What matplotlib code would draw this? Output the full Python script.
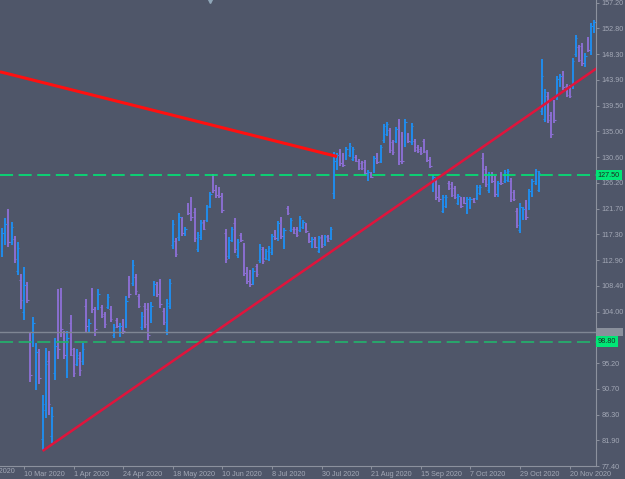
import matplotlib
matplotlib.use("Agg")
import matplotlib.pyplot as plt
import matplotlib.transforms as mtransforms
from matplotlib.patches import Rectangle
import numpy as np

plt.rcParams['font.family'] = ['Liberation Sans', 'DejaVu Sans']
plt.rcParams['lines.scale_dashes'] = False

# daily OHLC bars (index 0 = leftmost bar)
opens = [114.5, 116.5, 119.5, 116.0, 116.5, 111.0, 109.5, 104.0, 108.5, 99.5,
         98.5, 92.0, 96.5, 82.0, 87.0, 95.5, 82.5, 93.5, 106.0, 106.5,
         99.5, 94.0, 102.0, 96.5, 95.0, 96.0, 95.5, 105.0, 100.8, 107.0,
         104.0, 104.8, 104.8, 103.5, 104.8, 104.5, 99.9, 102.6, 100.0, 102.2,
         101.8, 109.5, 109.0, 110.0, 106.6, 101.4, 104.9, 104.5, 102.5, 107.0,
         108.6, 108.9, 104.1, 100.8, 105.0, 115.5, 116.2, 116.8, 119.8, 117.3,
         122.3, 123.0, 121.2, 114.8, 116.8, 119.5, 119.8, 122.2, 127.0, 125.4,
         125.1, 124.0, 117.5, 113.6, 116.4, 119.3, 113.7, 117.2, 115.2, 111.2,
         110.7, 109.0, 111.8, 112.8, 114.7, 113.2, 113.1, 114.2, 117.7, 116.6,
         119.8, 115.3, 121.9, 118.1, 118.3, 118.2, 118.1, 118.5, 119.0, 117.2,
         115.2, 116.5, 114.5, 116.8, 115.6, 117.0, 116.6, 124.5, 128.8, 131.6,
         130.9, 130.5, 131.0, 130.3, 130.7, 130.0, 129.6, 129.7, 126.8, 127.8,
         128.3, 131.0, 130.0, 133.5, 134.6, 135.2, 133.2, 133.4, 136.5, 134.3,
         132.8, 134.5, 133.2, 133.4, 132.4, 132.0, 133.3, 131.5, 130.3, 125.0,
         126.5, 125.4, 121.4, 122.2, 126.2, 125.9, 125.2, 122.7, 123.4, 123.5,
         121.2, 122.0, 123.4, 123.6, 124.4, 130.5, 128.6, 124.9, 127.7, 126.9,
         124.1, 127.7, 126.5, 126.7, 126.5, 124.6, 121.3, 118.0, 120.1, 122.7,
         121.9, 124.1, 126.2, 125.0, 138.5, 137.2, 141.2, 137.9, 139.9, 140.9,
         143.0, 145.0, 142.9, 142.7, 142.8, 148.3, 149.5, 149.8, 146.5, 151.0,
         148.8, 152.4]
highs = [118.4, 120.1, 121.7, 119.4, 117.0, 116.0, 110.5, 111.7, 109.1, 100.3,
         103.1, 98.6, 97.6, 89.6, 97.7, 97.2, 87.6, 99.4, 107.9, 108.1,
         100.7, 100.7, 103.4, 97.7, 97.6, 97.0, 98.6, 106.2, 102.7, 108.1,
         104.8, 107.9, 105.1, 103.9, 107.0, 105.0, 101.9, 102.9, 102.0, 102.7,
         106.7, 110.1, 112.9, 110.5, 107.0, 103.9, 105.5, 105.5, 105.6, 109.3,
         109.1, 109.6, 104.6, 106.2, 109.6, 119.8, 116.7, 121.0, 120.3, 118.6,
         122.7, 123.7, 121.8, 117.7, 119.8, 119.8, 122.4, 124.6, 127.7, 125.8,
         125.5, 124.4, 118.2, 116.8, 118.6, 120.1, 116.5, 117.5, 115.8, 111.7,
         111.2, 111.5, 112.2, 115.6, 115.1, 114.8, 115.3, 117.4, 118.0, 119.6,
         120.3, 118.4, 122.2, 120.1, 118.6, 118.6, 120.5, 119.8, 119.3, 117.5,
         116.8, 116.8, 117.0, 117.2, 117.2, 117.2, 118.6, 131.5, 131.3, 132.0,
         131.3, 132.3, 133.0, 132.3, 131.0, 130.3, 129.9, 130.1, 128.4, 128.0,
         130.8, 131.3, 132.7, 136.3, 136.7, 135.6, 133.6, 135.8, 137.2, 134.9,
         137.2, 134.8, 136.5, 133.7, 132.7, 132.3, 133.7, 131.8, 130.6, 127.5,
         127.0, 125.8, 124.1, 124.1, 126.5, 126.3, 125.6, 124.2, 123.7, 123.7,
         123.7, 123.7, 123.6, 125.8, 125.8, 131.3, 129.1, 128.0, 128.0, 127.4,
         126.5, 128.0, 128.4, 128.6, 127.0, 124.9, 121.8, 122.7, 122.0, 123.2,
         125.1, 126.8, 128.6, 128.2, 147.5, 142.3, 141.8, 138.4, 140.4, 144.6,
         144.9, 145.4, 143.2, 143.0, 147.7, 151.6, 149.9, 150.3, 148.5, 151.3,
         153.7, 154.2]
lows = [113.4, 115.5, 115.1, 115.5, 112.4, 110.3, 104.4, 102.5, 105.5, 91.9,
        97.9, 90.5, 91.5, 80.2, 85.7, 86.2, 81.4, 92.2, 95.8, 99.6,
        95.8, 92.6, 96.3, 92.7, 94.6, 92.9, 94.8, 100.3, 100.3, 103.8,
        99.8, 104.3, 102.9, 101.2, 104.4, 102.2, 99.4, 101.2, 99.6, 100.1,
        101.2, 106.3, 108.4, 106.9, 104.6, 100.8, 101.2, 99.1, 102.0, 106.7,
        106.5, 104.6, 101.7, 100.0, 104.4, 114.8, 113.4, 116.2, 117.0, 117.0,
        120.6, 119.6, 116.0, 114.3, 116.3, 118.0, 119.4, 121.8, 124.4, 123.6,
        123.6, 121.0, 112.4, 113.1, 116.0, 114.1, 113.2, 116.0, 110.1, 108.7,
        108.2, 108.6, 110.0, 112.4, 112.2, 112.9, 112.7, 113.7, 116.3, 116.2,
        116.5, 114.8, 120.6, 117.7, 117.4, 116.8, 117.7, 118.2, 117.5, 115.8,
        114.9, 114.9, 114.1, 114.9, 115.3, 116.0, 116.3, 123.4, 128.4, 129.1,
        128.9, 130.1, 130.6, 129.9, 129.8, 128.4, 128.4, 127.5, 126.5, 127.0,
        127.9, 129.4, 129.6, 133.0, 134.2, 131.3, 131.0, 133.0, 129.2, 129.4,
        132.3, 133.0, 132.7, 131.5, 131.3, 131.0, 131.3, 129.8, 128.7, 124.6,
        123.2, 122.9, 121.0, 121.8, 124.9, 123.7, 123.4, 122.4, 121.8, 122.5,
        120.8, 121.7, 122.7, 123.2, 124.1, 126.1, 125.5, 124.4, 126.1, 123.7,
        123.7, 125.8, 126.1, 126.3, 122.9, 123.0, 118.4, 117.5, 119.8, 119.8,
        121.5, 123.7, 125.8, 124.6, 137.9, 136.7, 136.5, 133.9, 136.5, 140.4,
        142.7, 142.2, 141.0, 140.8, 142.3, 147.8, 147.0, 146.3, 146.1, 148.7,
        148.2, 152.0]
closes = [117.5, 119.0, 116.0, 118.5, 113.0, 115.0, 106.0, 108.5, 106.0, 93.0,
          102.0, 97.0, 92.5, 88.0, 95.0, 88.0, 86.0, 98.0, 97.5, 101.0,
          96.5, 99.5, 97.5, 93.5, 96.5, 94.0, 97.5, 101.5, 102.0, 104.5,
          101.0, 107.0, 103.3, 101.8, 106.5, 102.7, 101.3, 101.5, 101.5, 100.6,
          105.8, 107.0, 112.0, 107.5, 105.0, 103.3, 101.8, 100.0, 105.0, 108.8,
          107.0, 105.3, 102.2, 105.5, 109.0, 119.0, 113.9, 120.3, 117.5, 118.2,
          121.0, 120.2, 116.6, 117.2, 119.3, 118.3, 122.0, 124.2, 125.0, 124.0,
          123.9, 121.5, 113.0, 116.3, 118.2, 114.7, 116.0, 116.3, 110.7, 109.2,
          108.7, 111.0, 110.4, 115.2, 112.7, 114.4, 114.9, 117.0, 116.6, 119.2,
          117.0, 118.0, 120.9, 119.7, 117.6, 117.1, 120.1, 119.5, 117.8, 116.1,
          116.5, 115.2, 116.6, 115.3, 116.9, 116.2, 118.2, 130.0, 130.9, 129.6,
          129.3, 132.0, 132.6, 132.0, 130.0, 128.8, 128.7, 127.9, 128.1, 127.2,
          130.4, 129.8, 132.3, 135.9, 136.3, 131.8, 131.4, 135.4, 130.0, 130.0,
          136.7, 133.3, 136.0, 131.9, 131.6, 131.3, 131.7, 130.1, 129.0, 127.1,
          123.7, 123.3, 123.7, 123.7, 125.2, 124.1, 123.7, 123.9, 122.1, 122.7,
          123.3, 123.4, 122.9, 125.4, 125.5, 126.8, 126.0, 127.6, 126.4, 124.2,
          126.1, 126.1, 128.0, 128.2, 123.4, 123.3, 118.9, 122.0, 121.6, 120.3,
          124.7, 126.4, 128.2, 127.8, 144.5, 141.8, 137.0, 134.5, 137.0, 144.1,
          144.6, 142.6, 141.3, 141.1, 147.2, 151.2, 147.4, 146.8, 148.1, 149.1,
          153.2, 153.8]

tick_idx = [7, 23, 39, 55, 71, 87, 103, 119, 135, 151, 167, 183]
tick_labels = ['10 Mar 2020', '1 Apr 2020', '24 Apr 2020', '18 May 2020',
               '10 Jun 2020', '8 Jul 2020', '30 Jul 2020', '21 Aug 2020',
               '15 Sep 2020', '7 Oct 2020', '29 Oct 2020', '20 Nov 2020']
# the 99.60 label is covered by the price boxes on the scale
price_labels = ['77.40', '81.90', '86.30', '90.70', '95.20', '', '104.00',
                '108.40', '112.90', '117.30', '121.70', '126.20', '130.60',
                '135.00', '139.50', '143.90', '148.30', '152.80', '157.20']

# drawn objects
trend_down_x = [-0.75, 108.0]
trend_down_y = [145.3, 130.7]
trend_up_x = [13.0, 192.0]
trend_up_y = [80.0, 146.0]
level_high = 127.50
level_low = 98.80
gray_level = 100.48

bg = '#4f5669'
txt = '#a3a8b6'
axis_col = '#8c919e'
up_col = '#1f8ef1'
down_col = '#8c6fd4'

fig = plt.figure(figsize=(6.25, 4.79), dpi=100, facecolor=bg)
ax = fig.add_axes([0, 13 / 479, 596 / 625, 466 / 479])
ax.set_facecolor(bg)

idx = np.arange(len(opens))
o = np.array(opens)
c = np.array(closes)
cols = np.where(c >= o, up_col, down_col)

ax.vlines(idx, lows, highs, colors=cols, linewidth=1.35, zorder=2)
ax.hlines(o, idx - 0.5, idx, colors=cols, linewidth=0.8, zorder=2)
ax.hlines(c, idx, idx + 0.5, colors=cols, linewidth=0.8, zorder=2)

# horizontal levels
ax.axhline(gray_level, color='#7f8694', linewidth=1.0, zorder=3)
ax.axhline(level_high, color='#00e676', linewidth=1.2,
           linestyle=(0, (9.4, 4.0)), zorder=4)
ax.axhline(level_low, color='#22b46c', linewidth=1.2,
           linestyle=(0, (9.4, 4.0)), zorder=4)

# trendlines
ax.plot(trend_down_x, trend_down_y, color='#ff1010', linewidth=2.2,
        solid_capstyle='butt', zorder=5)
ax.plot(trend_up_x, trend_up_y, color='#e0143c', linewidth=1.8,
        solid_capstyle='butt', zorder=5)

ax.set_xlim(-0.74, 191.5)
ax.set_ylim(77.4, 157.66)

# axes like the terminal
for s in ['top', 'left']:
    ax.spines[s].set_visible(False)
for s in ['right', 'bottom']:
    ax.spines[s].set_color(axis_col)
    ax.spines[s].set_linewidth(0.8)

ax.yaxis.tick_right()
yt = np.linspace(77.4, 157.2, 19)
ax.set_yticks(yt)
ax.set_yticklabels(price_labels)
ax.set_xticks(tick_idx)
ax.set_xticklabels(tick_labels, ha='left')
ax.tick_params(axis='both', colors=axis_col, labelcolor=txt, labelsize=5.2,
               length=2.5, width=0.7, direction='out')
ax.tick_params(axis='x', pad=0.8)
ax.tick_params(axis='y', pad=1.5)

# partially visible first date label
ax.text(-9, -0.0045, '14 Feb 2020', transform=mtransforms.blended_transform_factory(
    ax.transData, ax.transAxes), ha='left', va='top', fontsize=5.2,
    color=txt, clip_on=False)

# price boxes on the right scale (gray one sits mostly under the green one)
ytrans = mtransforms.blended_transform_factory(ax.transAxes, ax.transData)
ax.add_patch(Rectangle((1.002, gray_level - 0.75), 0.044, 1.5, transform=ytrans,
                       fc='#8a909c', ec='none', clip_on=False, zorder=6))
ax.text(1.003, level_low, '98.80', transform=ytrans, ha='left', va='center',
        fontsize=5.2, color='#1d2a22', clip_on=False, zorder=7,
        bbox=dict(boxstyle='square,pad=0.25', fc='#00e676', ec='none'))
ax.text(1.003, level_high, '127.50', transform=ytrans, ha='left', va='center',
        fontsize=5.2, color='#1d2a22', clip_on=False, zorder=7,
        bbox=dict(boxstyle='square,pad=0.25', fc='#00e676', ec='none'))

# small shift marker at the top
ax.plot([67], [1.0], marker='v', markersize=5, color='#8fa6b8',
        transform=mtransforms.blended_transform_factory(ax.transData, ax.transAxes),
        clip_on=False, zorder=6)

fig.savefig('out.png', dpi=100, facecolor=bg)
